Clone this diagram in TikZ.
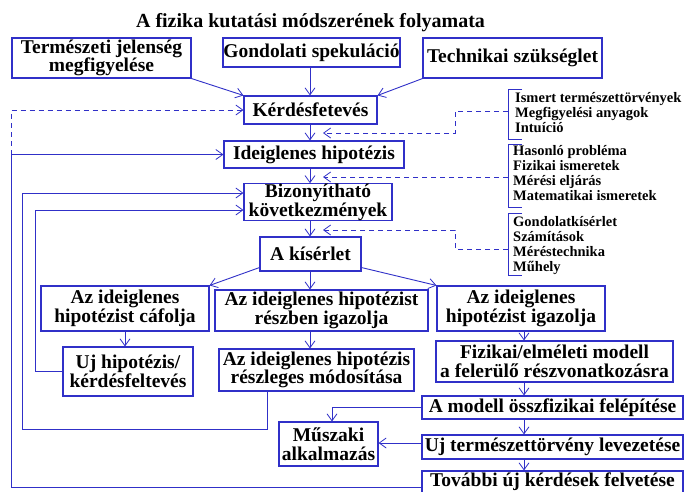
\documentclass[tikz,border=0pt]{standalone}
\usepackage{fontspec}
\setmainfont{Liberation Serif}
\usetikzlibrary{arrows.meta,calc}
\definecolor{lineblue}{RGB}{48,48,200}
\begin{document}
\begin{tikzpicture}[x=1pt,y=-1pt,
  conn/.style={draw=lineblue, line width=0.9pt},
  arr/.style={conn, -{Straight Barb[length=7pt,width=10pt,line width=0.8pt]}},
  dconn/.style={arr, dash pattern=on 5pt off 4pt},
  box/.style={draw=lineblue, line width=1.1pt, fill=white, inner sep=0pt, align=center,
    font=\fontsize{19.5}{18.5}\selectfont\bfseries},
  lst/.style={anchor=north west, inner sep=0pt, align=left,
    font=\fontsize{14.5}{15}\selectfont\bfseries},
  ttl/.style={anchor=base, inner sep=0pt, font=\fontsize{20}{24}\selectfont\bfseries},
]
\useasboundingbox (0,0) rectangle (687,491);
\fill[white] (0,0) rectangle (687,491);

\node[ttl] (title) at (310.5,27) {A fizika kutatási módszerének folyamata};

\node[box, minimum width=179pt, minimum height=40pt] (t1) at (101.5,58) {Természeti jelenség\\megfigyelése};
\node[box, minimum width=177pt, minimum height=29pt] (t2) at (311.5,52.5) {Gondolati spekuláció};
\node[box, minimum width=179pt, minimum height=40pt] (t3) at (512.5,58) {Technikai szükséglet};
\node[box, minimum width=133pt, minimum height=28pt] (k) at (310.5,110) {Kérdésfetevés};
\node[box, minimum width=180pt, minimum height=27pt] (ih) at (314,154.5) {Ideiglenes hipotézis};
\node[box, minimum width=148pt, minimum height=36pt, font=\fontsize{19.5}{16.5}\selectfont\bfseries] (bk) at (318,202) {Bizonyítható\\következmények};
\node[box, minimum width=101pt, minimum height=34pt] (ks) at (310.5,254) {A kísérlet};
\node[box, minimum width=168pt, minimum height=45pt] (c1) at (125,308.5) {Az ideiglenes\\hipotézist cáfolja};
\node[box, minimum width=213pt, minimum height=41pt] (c2) at (321.5,310.5) {Az ideiglenes hipotézist\\részben igazolja};
\node[box, minimum width=168pt, minimum height=45pt] (c3) at (521,308.5) {Az ideiglenes\\hipotézist igazolja};
\node[box, minimum width=130pt, minimum height=49pt] (uh) at (128,371.5) {Uj hipotézis/\\kérdésfeltevés};
\node[box, minimum width=195pt, minimum height=42pt] (rm) at (316.5,370) {Az ideiglenes hipotézis\\részleges módosítása};
\node[box, minimum width=237pt, minimum height=41pt] (fm) at (554.5,361.5) {Fizikai/elméleti modell\\a felerülő részvonatkozásra};
\node[box, minimum width=261pt, minimum height=23pt] (am) at (552.5,407.5) {A modell összfizikai felépítése};
\node[box, minimum width=261pt, minimum height=24pt] (ut) at (552.5,447) {Uj természettörvény levezetése};
\node[box, minimum width=99pt, minimum height=44pt] (ms) at (328.5,444) {Műszaki\\alkalmazás};
\node[box, minimum width=261pt, minimum height=22pt] (tov) at (552.5,482) {További új kérdések felvetése};

% lists
\node[lst] (l1) at (515,92.5) {Ismert természettörvények\\Megfigyelési anyagok\\Intuíció};
\node[lst] (l2) at (513,145.5) {Hasonló probléma\\Fizikai ismeretek\\Mérési eljárás\\Matematikai ismeretek};
\node[lst] (l3) at (513,216.5) {Gondolatkísérlet\\Számítások\\Méréstechnika\\Műhely};
\draw[conn] (522,89) -- (508,89) -- (508,139) -- (522,139);
\draw[conn] (522,144) -- (508,144) -- (508,207) -- (522,207);
\draw[conn] (522,213) -- (508,213) -- (508,275) -- (522,275);

% spine coordinates
\coordinate (sx) at (310,0);
\coordinate (sy) at (524,0);
\coordinate (o1) at (11,0);
\coordinate (o2) at (22,0);
\coordinate (o3) at (35,0);

% top inputs
\draw[arr] (t1.south east) -- (k.north west);
\draw[arr] (t2.south -| sx) -- (k.north -| sx);
\draw[arr] (t3.south west) -- (k.north east);

% main chain
\draw[arr] (k.south -| sx) -- (ih.north -| sx);
\draw[arr] (ih.south -| sx) -- (bk.north -| sx);
\draw[arr] (bk.south -| sx) -- (ks.north -| sx);
\draw[arr] (ks.south -| sx) -- (c2.north -| sx);
\draw[arr] ($(ks.south west)+(0,-4)$) -- (c1.north east);
\draw[arr] ($(ks.south east)+(0,-4)$) -- (c3.north west);
\draw[arr] (c1.south) -- (c1.south |- uh.north);
\draw[arr] (c2.south -| sx) -- (rm.north -| sx);
\draw[arr] (c3.south -| sy) -- (fm.north -| sy);
\draw[arr] (fm.south -| sy) -- (am.north -| sy);
\draw[arr] (am.south -| sy) -- (ut.north -| sy);
\draw[arr] (ut.south -| sy) -- (tov.north -| sy);
\draw[arr] ($(ut.west)+(0,-4)$) -- ($(ms.east)+(0,-1)$);
\draw[arr] (am.west) -| ($(ms.north)+(3.5,0)$);

% feedback loops
\coordinate (bkA) at ($(bk.west)+(0,-9)$);
\coordinate (bkB) at ($(bk.west)+(0,8)$);
\coordinate (rmo) at ($(rm.south west)+(49,0)$);
\draw[arr] ($(tov.west)+(0,5)$) -| (o1 |- ih.west) -- (ih.west);
\draw[dconn] (o1 |- ih.west) |- (k.west);
\draw[arr] (rmo) -- ++(0,38) -| (o2 |- bkA) -- (bkA);
\draw[arr] (uh.west) -| (o3 |- bkB) -- (bkB);

% dashed list connectors
\coordinate (b1) at (508,111);
\coordinate (b2) at (508,177);
\coordinate (b3) at (508,249);
\coordinate (d1) at (323,133);
\coordinate (d2) at (323,177);
\coordinate (d3) at (323,230);
\draw[dconn] (b1) -- (455,111) |- (d1);
\draw[dconn] (b2) -- (d2);
\draw[dconn] (b3) -- (455,249) |- (d3);
\end{tikzpicture}
\end{document}
